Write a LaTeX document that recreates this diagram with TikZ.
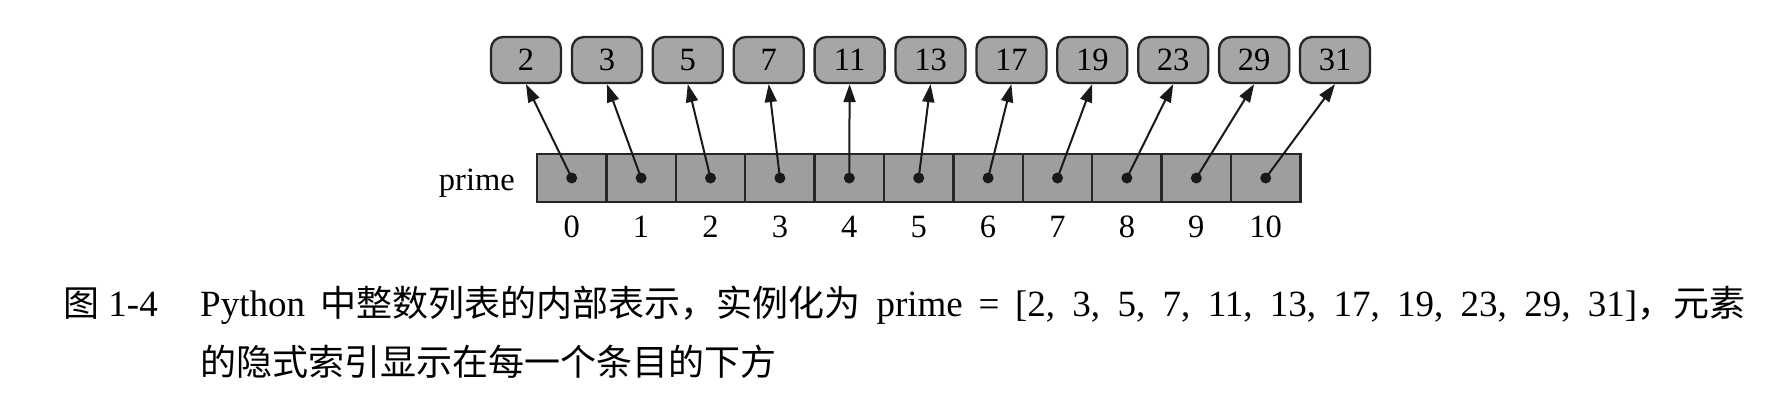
\documentclass[tikz,border=0pt]{standalone}
\usepackage{fontspec}
\setmainfont{Liberation Serif}
\newfontfamily\cjk{Noto Sans CJK SC}[Scale=0.973]
\usetikzlibrary{arrows.meta}
\XeTeXinterchartokenstate=1
\XeTeXinterchartoks 1 1 = {\hskip 0pt plus 1.2pt\relax}
\XeTeXinterchartoks 1 3 = {\hskip 0pt plus 1.2pt\relax}
\XeTeXinterchartoks 3 1 = {\hskip 0pt plus 1.2pt\relax}
\tikzset{
  valbox/.style={draw=black!85, line width=2.3pt, fill=black!35, rounded corners=12pt,
    minimum width=70pt, minimum height=46pt, inner sep=0pt,
    font=\fontsize{32.5}{39}\selectfont},
  cellbox/.style={draw=black!85, line width=2.3pt, fill=black!38,
    minimum width=69.4pt, minimum height=48pt, inner sep=0pt},
  dotnode/.style={circle, fill=black!90, inner sep=0pt, minimum size=11pt},
  ptr/.style={-{Triangle[length=18pt,width=12pt]}, line width=2pt, black!90},
  difont/.style={font=\fontsize{32.5}{39}\selectfont, inner sep=0pt},
  capfont/.style={font=\fontsize{37}{44}\selectfont, inner sep=0pt},
}
\begin{document}
\begin{tikzpicture}[x=1pt,y=-1pt]
\useasboundingbox (0,0) rectangle (1772,401);
\fill[white] (0,0) rectangle (1772,401);
\foreach \v [count=\i from 0] in {2,3,5,7,11,13,17,19,23,29,31}{
  \node[valbox] (v\i) at (526+80.9*\i, 60) {\v};
  \node[cellbox] (c\i) at (571.7+69.4*\i, 178) {};
  \node[dotnode] (d\i) at (c\i.center) {};
  \node[difont, anchor=base] (n\i) at (571.7+69.4*\i, 237) {\i};
  \draw[ptr] (d\i.center) -- (v\i.south);
}
\node[difont, anchor=base east] (lbl) at (515,190) {prime};
\node[capfont, anchor=base west] (fig) at (63,316) {{\cjk 图}\ 1-4};
\node[capfont, anchor=base west] (cap1) at (200,316)
  {\makebox[1545pt][s]{Python {\cjk 中整数列表的内部表示，实例化为} prime = [2, 3, 5, 7, 11, 13, 17, 19, 23, 29, 31]{\cjk ，元素}}};
\node[capfont, anchor=base west] (cap2) at (200,375) {{\cjk 的隐式索引显示在每一个条目的下方}};
\end{tikzpicture}
\end{document}
